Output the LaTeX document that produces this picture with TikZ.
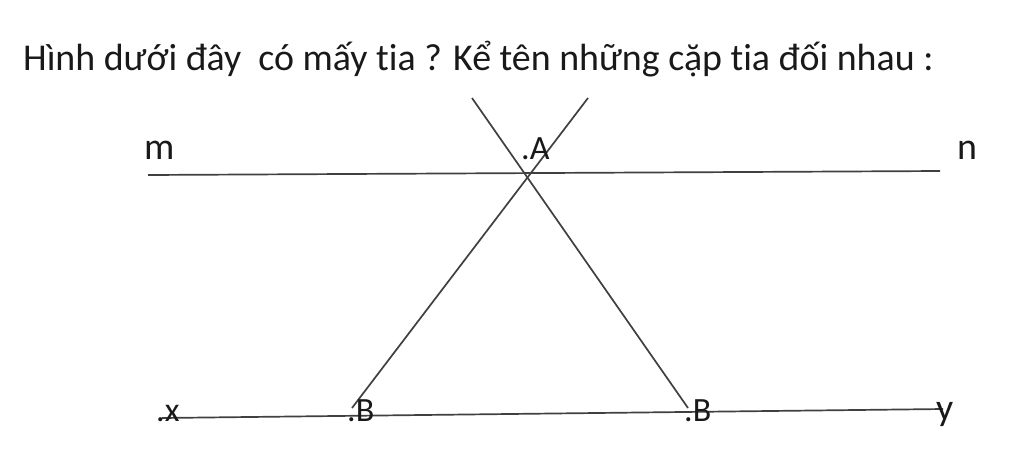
\documentclass[tikz,border=0pt]{standalone}
\usepackage{fontspec}
\setmainfont[RawFeature=-liga]{Carlito}
\begin{document}
\begin{tikzpicture}[x=1pt,y=-1pt,
  ln/.style={draw=black!75,line width=1.7pt},
  lbl/.style={anchor=base west,inner sep=0pt,text=black!90},
  big/.style={font=\fontsize{37.9}{40}\selectfont},
  small/.style={font=\fontsize{34}{36}\selectfont}]
\useasboundingbox[fill=white] (0,0) rectangle (1024,461);
\node[lbl,big] (title) at (23,70) {Hình dưới đây\ \ có mấy tia ? Kể tên những cặp tia đối nhau :};
% ends of lines
\coordinate (m0) at (148,175);
\coordinate (n0) at (940,171);
\coordinate (x0) at (162,418);
\coordinate (y0) at (943,409);
\coordinate (t1) at (472,98);
\coordinate (t2) at (588,98);
\coordinate (B1) at (352,408);
\coordinate (B2) at (688,408);
\draw[ln] (m0) -- (n0);
\draw[ln] (x0) -- (y0);
\draw[ln] (t1) -- (B2);
\draw[ln] (t2) -- (B1);
\node[lbl,big] (m) at (144,159) {m};
\node[lbl,big] (n) at (957,159) {n};
\node[lbl,small] (A) at (521,159) {.A};
\node[lbl,small] (x) at (156,421) {.x};
\node[lbl,small] (Bl) at (347,421) {.B};
\node[lbl,small] (Br) at (684,421) {.B};
\node[lbl,big] (y) at (936,420) {y};
\end{tikzpicture}
\end{document}
